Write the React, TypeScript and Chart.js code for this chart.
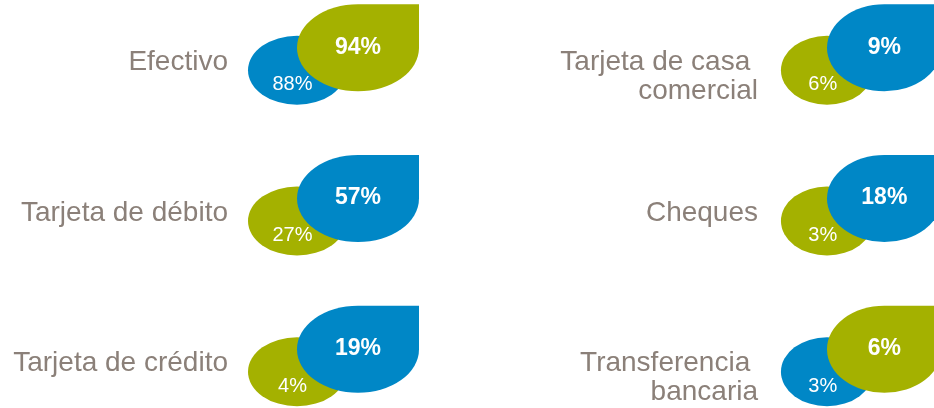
import React, { useEffect, useRef } from "react";
import { Chart, registerables } from "chart.js";

Chart.register(...registerables);

// ---- data ----
const categories: string[][] = [
  ["Efectivo"],
  ["Tarjeta de débito"],
  ["Tarjeta de crédito"],
  ["Tarjeta de casa ", "comercial"],
  ["Cheques"],
  ["Transferencia ", "bancaria"],
];
const seriesBlue: number[] = [88, 57, 19, 9, 18, 3];
const seriesGreen: number[] = [94, 27, 4, 6, 3, 6];
const categoryColumn: number[] = [0, 0, 0, 1, 1, 1];
const categoryRow: number[] = [0, 1, 2, 0, 1, 2];

// ---- styles ----
const BLUE = "#0087c6";
const GREEN = "#a4b100";
const LABEL = "#8b8079";
const FONT = '"Liberation Sans", Arial, sans-serif';
const colScale = [1, 0.94];

const leafPlugin = {
  id: "leafPlugin",
  afterDatasetsDraw(chart: any) {
    const ctx: CanvasRenderingContext2D = chart.ctx;
    const meta = chart.getDatasetMeta(0);
    meta.data.forEach((pt: any, i: number) => {
      const ax = pt.x;
      const ay = pt.y;
      const s = colScale[categoryColumn[i]];
      const b = seriesBlue[i];
      const g = seriesGreen[i];
      const blueBig = b >= g;
      const bigVal = blueBig ? b : g;
      const smallVal = blueBig ? g : b;
      const bigColor = blueBig ? BLUE : GREEN;
      const smallColor = blueBig ? GREEN : BLUE;

      ctx.save();
      // small ellipse
      ctx.beginPath();
      ctx.ellipse(ax, ay + 22.5, 49 * s, 34.5, 0, 0, Math.PI * 2);
      ctx.fillStyle = smallColor;
      ctx.fill();

      // leaf
      const cx = ax + 61 * s;
      const cy = ay;
      const rx = 61 * s;
      const ry = 43.5;
      ctx.beginPath();
      ctx.ellipse(cx, cy, rx, ry, 0, 0, Math.PI * 1.5, false);
      ctx.lineTo(cx + rx, cy - ry);
      ctx.closePath();
      ctx.fillStyle = bigColor;
      ctx.fill();

      // texts
      ctx.fillStyle = "#ffffff";
      ctx.textAlign = "center";
      ctx.textBaseline = "middle";
      ctx.font = `bold 23px ${FONT}`;
      ctx.fillText(`${bigVal}%`, cx, cy - 0.5);
      ctx.font = `20px ${FONT}`;
      ctx.fillText(`${smallVal}%`, ax - 4.5 * s, ay + 37);

      // label
      ctx.fillStyle = LABEL;
      ctx.textAlign = "right";
      ctx.textBaseline = "alphabetic";
      ctx.font = `28px ${FONT}`;
      categories[i].forEach((line, li) => {
        ctx.fillText(line, ax - 69, ay + 22 + li * 29);
      });
      ctx.restore();
    });
  },
};

export default function App() {
  const ref = useRef<HTMLCanvasElement | null>(null);
  useEffect(() => {
    document.body.style.margin = "0";
    const canvas = ref.current;
    if (!canvas) return;
    const chart = new Chart(canvas, {
      type: "scatter",
      data: {
        datasets: [
          {
            label: "Medios de pago",
            data: categories.map((_, i) => ({ x: categoryColumn[i], y: categoryRow[i] })),
            pointRadius: 0,
            pointHoverRadius: 0,
          },
        ],
      },
      options: {
        animation: false,
        responsive: false,
        maintainAspectRatio: false,
        layout: { padding: { left: 297, right: 107, top: 47.75, bottom: 58.75 } },
        plugins: { legend: { display: false }, tooltip: { enabled: false } },
        scales: {
          x: { type: "linear", min: 0, max: 1, display: false },
          y: { type: "linear", min: 0, max: 2, reverse: true, display: false },
        },
      },
      plugins: [leafPlugin],
    });
    return () => chart.destroy();
  }, []);
  return (
    <div style={{ position: "fixed", left: 0, top: 0, width: 934, height: 408, background: "#fff" }}>
      <canvas ref={ref} width={934} height={408} style={{ display: "block", width: 934, height: 408 }} />
    </div>
  );
}
